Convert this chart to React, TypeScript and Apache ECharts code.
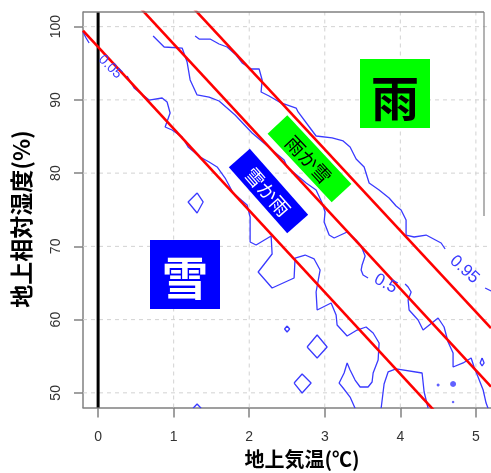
import React, { useEffect, useRef } from "react";
import * as echarts from "echarts";

// ---- axes ----
const X_MIN = -0.2;
const X_MAX = 5.2;
const Y_MIN = 48;
const Y_MAX = 102;
const xTicks = [0, 1, 2, 3, 4, 5];
const yTicks = [50, 60, 70, 80, 90, 100];
const xTitle = "地上気温(℃)";
const yTitle = "地上相対湿度(%)";

// ---- red boundary lines (x: 気温, y: 湿度) ----
const boundaryLow = [[-0.2, 99.45], [5.2, 39.19]];
const boundaryMid = [[0.5, 103.2], [5.2, 50.84]];
const boundaryHigh = [[1.2, 103.2], [5.2, 58.85]];
const zeroLine = [[0, 48], [0, 102]];

// ---- probability contours ----
const contour005a = [[-0.2, 99.27], [-0.159, 98.45], [-0.119, 97.77]];
const contour005b = [
  [0.384, 93.26], [0.476, 91.62], [0.675, 89.98], [0.847, 90.26], [0.913, 89.71], [0.953, 88.21],
  [0.887, 86.3], [0.979, 85.89], [1.112, 84.93], [1.191, 83.57], [1.35, 82.2], [1.469, 81.52],
  [1.575, 80.84], [1.681, 79.33], [1.787, 77.29], [1.972, 75.65], [2.012, 74.01], [2.012, 72.23],
  [2.012, 70.6], [2.091, 70.19], [2.29, 71.42], [2.303, 68.96], [2.118, 66.5], [2.303, 64.32],
  [2.594, 65.68], [2.607, 68.41], [2.74, 68.82], [2.859, 68.28], [2.938, 66.77], [2.885, 63.77],
  [2.899, 61.31], [3.084, 62.27], [3.15, 60.63], [3.163, 59.26], [3.296, 57.76], [3.428, 58.58],
  [3.547, 58.99], [3.64, 58.17], [3.719, 56.81], [3.706, 54.48], [3.64, 52.71], [3.626, 51.48],
  [3.573, 50.8], [3.468, 50.8], [3.401, 51.75], [3.335, 53.12], [3.296, 54.08], [3.256, 52.71],
  [3.19, 51.34], [3.243, 50.66], [3.335, 49.43], [3.401, 47.9],
];
const contour05a = [
  [0.728, 98.72], [0.874, 97.22], [1.112, 97.08], [1.178, 95.17], [1.218, 92.72], [1.31, 90.67],
  [1.469, 90.39], [1.601, 89.85], [1.813, 87.94], [2.038, 85.48], [2.303, 83.16], [2.462, 81.79],
  [2.501, 80.84], [2.66, 79.47], [2.753, 78.65], [2.885, 77.7], [2.965, 75.92], [3.004, 74.69],
  [2.991, 73.33], [3.058, 71.55], [3.124, 71.14], [3.296, 71.96], [3.415, 70.87], [3.481, 70.05],
  [3.534, 68.68], [3.494, 67.46], [3.481, 66.77], [3.507, 66.09], [3.573, 65.68],
];
const contour05b = [
  [4.063, 64.86], [4.103, 64.45], [4.143, 63.77], [4.103, 62.68], [4.116, 61.31], [4.235, 59.95],
  [4.301, 58.58], [4.5, 60.22], [4.579, 58.99], [4.632, 56.94], [4.698, 55.44], [4.698, 53.53],
  [4.831, 54.08], [4.937, 54.76], [4.976, 53.53], [5.029, 52.16], [5.096, 50.39], [5.135, 48.61],
  [5.161, 47.9],
];
const contour095a = [
  [1.284, 98.72], [1.337, 98.31], [1.482, 98.31], [1.601, 97.63], [1.707, 97.22], [1.826, 96.13],
  [1.906, 95.04], [2.025, 94.22], [2.131, 94.22], [2.171, 92.72], [2.157, 91.08], [2.263, 90.53],
  [2.422, 89.58], [2.621, 88.89], [2.647, 88.35], [2.806, 86.16], [2.885, 85.07], [3.097, 84.8],
  [3.243, 84.39], [3.335, 83.57], [3.415, 81.93], [3.521, 80.84], [3.587, 78.65], [3.719, 77.7],
  [3.851, 76.6], [3.944, 75.51], [4.01, 74.97], [4.076, 73.6], [4.076, 71.55], [4.182, 71.28],
  [4.341, 71.55], [4.54, 70.46], [4.593, 69.64],
];
const contour095b = [[5.122, 64.32], [5.201, 63.91]];

// small closed contour islands
const island1 = [[1.31, 77.29], [1.39, 76.06], [1.31, 74.56], [1.191, 76.06], [1.31, 77.29]];
const island2 = [[2.501, 59.13], [2.535, 58.72], [2.501, 58.31], [2.468, 58.72], [2.501, 59.13]];
const island3 = [[2.766, 56.26], [2.899, 57.9], [3.031, 56.26], [2.899, 54.76], [2.766, 56.26]];
const island4 = [[2.594, 51.34], [2.7, 52.57], [2.819, 51.34], [2.7, 49.98], [2.594, 51.34]];
const island5 = [[1.257, 47.9], [1.31, 48.48], [1.363, 47.9]];
const island6 = [[3.746, 47.9], [3.785, 51.21], [3.838, 52.85], [3.944, 53.26], [4.288, 52.71], [4.315, 50.12], [4.368, 47.9]];
const island7 = [[5.082, 54.76], [5.109, 54.08], [5.082, 53.67], [5.056, 54.08], [5.082, 54.76]];
const dotIslands = [[4.5, 51.07, 3], [4.698, 51.21, 6], [4.698, 48.75, 2.5]];

const contourLabels = [
  { text: "0.05", x: 111, y: 66, rot: -45, size: 14 },
  { text: "0.5", x: 386, y: 283, rot: -28, size: 17 },
  { text: "0.95", x: 465, y: 269, rot: -42, size: 17 },
];

const CONTOUR = "#3a3aff";
const AXIS = "#808080";
const NUM_FONT = "'Liberation Sans', Arial, sans-serif";
const JP_FONT = "'Noto Sans CJK JP', sans-serif";

function lineSeries(data: number[][], color: string, width: number, z: number, type: any = "solid") {
  return {
    type: "line",
    data,
    symbol: "none",
    silent: true,
    animation: false,
    z,
    lineStyle: { color, width, type },
  };
}

function labelBox(cx: number, cy: number, w: number, h: number, rotDeg: number, text: string, fill: string, color: string, font: string, dy = 0) {
  return {
    type: "group",
    x: cx,
    y: cy,
    rotation: (rotDeg * Math.PI) / 180,
    children: [
      { type: "rect", z: 20, shape: { x: -w / 2, y: -h / 2, width: w, height: h }, style: { fill } },
      { type: "text", z: 21, style: { text, x: 0, y: dy, align: "center", verticalAlign: "middle", fill: color, font } },
    ],
  };
}

export default function App() {
  const ref = useRef<HTMLDivElement>(null);
  useEffect(() => {
    const chart = echarts.init(ref.current!, null, { renderer: "svg" });
    const gridSeries = [
      ...xTicks.map((x) => lineSeries([[x, Y_MIN], [x, Y_MAX]], "#d2d2d2", 1, 1, [4, 4])),
      ...yTicks.map((y) => lineSeries([[X_MIN, y], [X_MAX, y]], "#d2d2d2", 1, 1, [4, 4])),
    ];
    const contours = [contour005a, contour005b, contour05a, contour05b, contour095a, contour095b,
      island1, island2, island3, island4, island5, island6, island7].map((c) => lineSeries(c, CONTOUR, 1.3, 2));
    const option: any = {
      animation: false,
      grid: { left: 83, right: 0, top: 12, bottom: 65.5, containLabel: false },
      xAxis: {
        type: "value",
        min: X_MIN,
        max: X_MAX,
        axisLine: { show: true, onZero: false, lineStyle: { color: AXIS, width: 1.5 } },
        axisTick: { show: true, length: 10, customValues: xTicks, lineStyle: { color: AXIS, width: 1.5 } },
        axisLabel: { customValues: xTicks, margin: 21, fontSize: 14, lineHeight: 14, color: "#333", fontFamily: NUM_FONT },
        splitLine: { show: false },
      },
      yAxis: {
        type: "value",
        min: Y_MIN,
        max: Y_MAX,
        axisLine: { show: true, onZero: false, lineStyle: { color: AXIS, width: 1.5 } },
        axisTick: { show: true, length: 9, customValues: yTicks, lineStyle: { color: AXIS, width: 1.5 } },
        axisLabel: { customValues: yTicks, rotate: 90, margin: 21, fontSize: 14, color: "#333", fontFamily: NUM_FONT },
        splitLine: { show: false },
      },
      series: [
        ...gridSeries,
        ...contours,
        {
          type: "scatter",
          data: dotIslands.map((d) => [d[0], d[1]]),
          symbolSize: (v: number[], p: any) => dotIslands[p.dataIndex][2],
          itemStyle: { color: CONTOUR },
          silent: true,
          z: 2,
        },
        lineSeries(zeroLine, "#000", 3, 3),
        lineSeries(boundaryLow, "#ff0000", 2.6, 4),
        lineSeries(boundaryMid, "#ff0000", 2.6, 4),
        lineSeries(boundaryHigh, "#ff0000", 2.6, 4),
      ],
      graphic: [
        { type: "line", shape: { x1: 83, y1: 12, x2: 484, y2: 12 }, style: { stroke: AXIS, lineWidth: 1.5 }, z: 5 },
        { type: "line", shape: { x1: 484, y1: 12, x2: 484, y2: 216 }, style: { stroke: AXIS, lineWidth: 1.2 }, z: 5 },
        ...contourLabels.map((l) => ({
          type: "text",
          x: l.x,
          y: l.y,
          rotation: (l.rot * Math.PI) / 180,
          z: 6,
          style: { text: l.text, fill: CONTOUR, font: `${l.size}px ${NUM_FONT}`, align: "center", verticalAlign: "middle" },
        })),
        labelBox(395, 93.5, 70, 69, 0, "雨", "#00ff00", "#000", `bold 48px ${JP_FONT}`, 1),
        labelBox(185, 274.5, 70, 69, 0, "雪", "#0000ff", "#fff", `bold 46px ${JP_FONT}`),
        labelBox(309.5, 158.8, 94, 27, -47, "雨か雪", "#00ff00", "#000", `19px ${JP_FONT}`),
        labelBox(268.5, 191, 88, 28, -48.5, "雪か雨", "#0000ff", "#fff", `19px ${JP_FONT}`),
        {
          type: "text", x: 302, y: 458, z: 10,
          style: { text: xTitle, align: "center", verticalAlign: "middle", fill: "#000", font: `bold 20px ${JP_FONT}`, lineHeight: 21 },
        },
        {
          type: "text", x: 20, y: 219, rotation: Math.PI / 2, z: 10,
          style: { text: yTitle, align: "center", verticalAlign: "middle", fill: "#000", font: `bold 23px ${JP_FONT}` },
        },
      ],
    };
    chart.setOption(option);
    return () => chart.dispose();
  }, []);
  return <div ref={ref} style={{ position: "fixed", left: 0, top: 0, width: 491, height: 473 }} />;
}
